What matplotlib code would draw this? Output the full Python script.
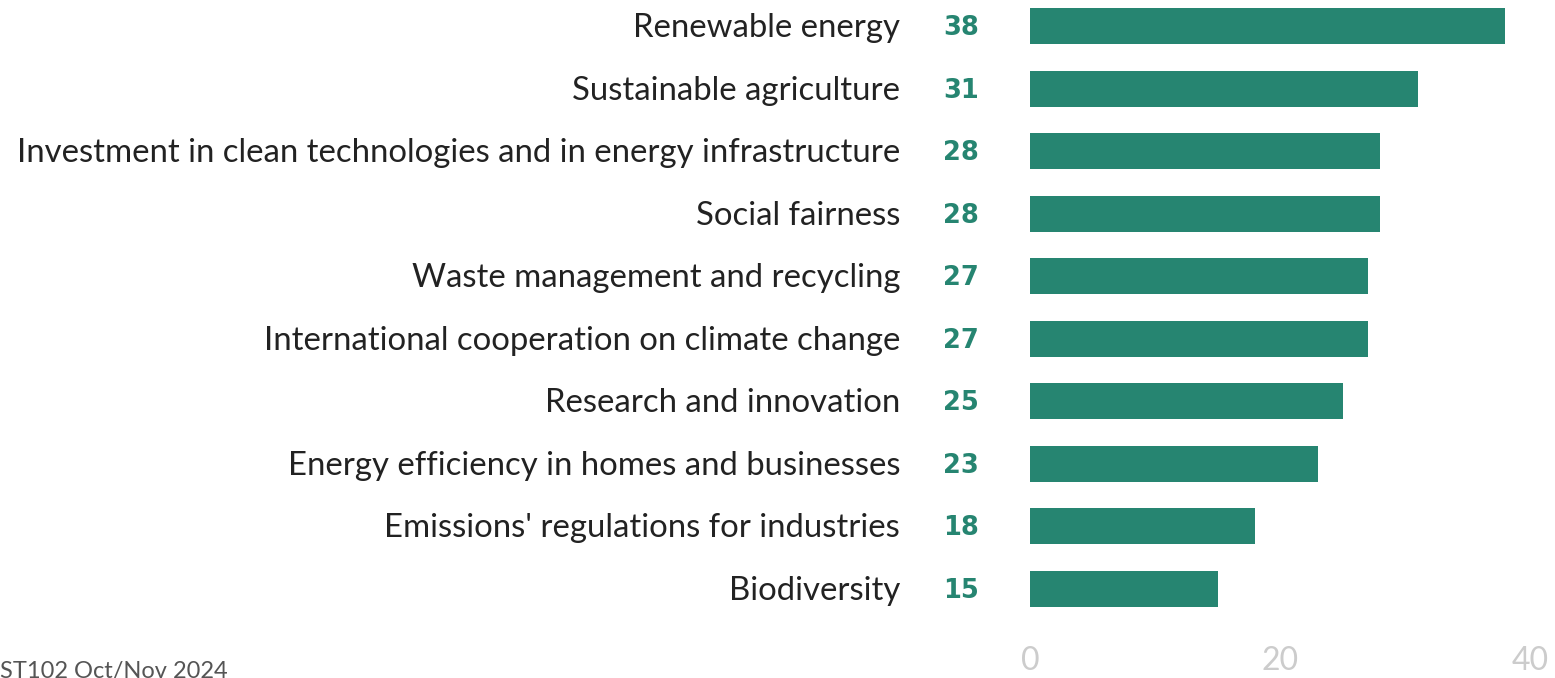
import matplotlib
matplotlib.use("Agg")
import matplotlib.pyplot as plt

categories = [
    "Renewable energy",
    "Sustainable agriculture",
    "Investment in clean technologies and in energy infrastructure",
    "Social fairness",
    "Waste management and recycling",
    "International cooperation on climate change",
    "Research and innovation",
    "Energy efficiency in homes and businesses",
    "Emissions' regulations for industries",
    "Biodiversity",
]
values = [38, 31, 28, 28, 27, 27, 25, 23, 18, 15]
xticks = [0, 20, 40]
source_note = "ST102 Oct/Nov 2024"

GREEN = "#268571"
W, H = 1555, 678
plt.rcParams["font.family"] = ["Lato", "DejaVu Sans"]

fig = plt.figure(figsize=(W / 100, H / 100), dpi=100)
ax = fig.add_axes([1030 / W, 58 / H, 500 / W, 620 / H])

y = list(range(len(categories)))
ax.barh(y, values, height=0.58, color=GREEN)
ax.set_xlim(0, 40)
ax.set_ylim(9.5, -0.42)

for s in ax.spines.values():
    s.set_visible(False)
ax.set_yticks([])
ax.set_xticks(xticks)
ax.set_xticklabels([str(t) for t in xticks], fontsize=23, color="#cccccc")
ax.tick_params(axis="x", length=0, pad=19)

# category names and value labels to the left of the bars
for yi, cat, v in zip(y, categories, values):
    ax.annotate(cat, xy=(0, yi), xycoords=("axes fraction", "data"),
                xytext=(-130, -11), textcoords="offset pixels",
                ha="right", va="baseline", fontsize=23.7, color="#222222")
    ax.annotate(str(v), xy=(0, yi), xycoords=("axes fraction", "data"),
                xytext=(-87, -9), textcoords="offset pixels",
                ha="left", va="baseline", fontsize=18.5, color=GREEN,
                fontweight="bold", family="DejaVu Sans")

fig.text(0 / W, 1 - 661 / H, source_note, ha="left", va="top",
         fontsize=17, color="#555555")

fig.savefig("out.png", dpi=100, facecolor="white")
